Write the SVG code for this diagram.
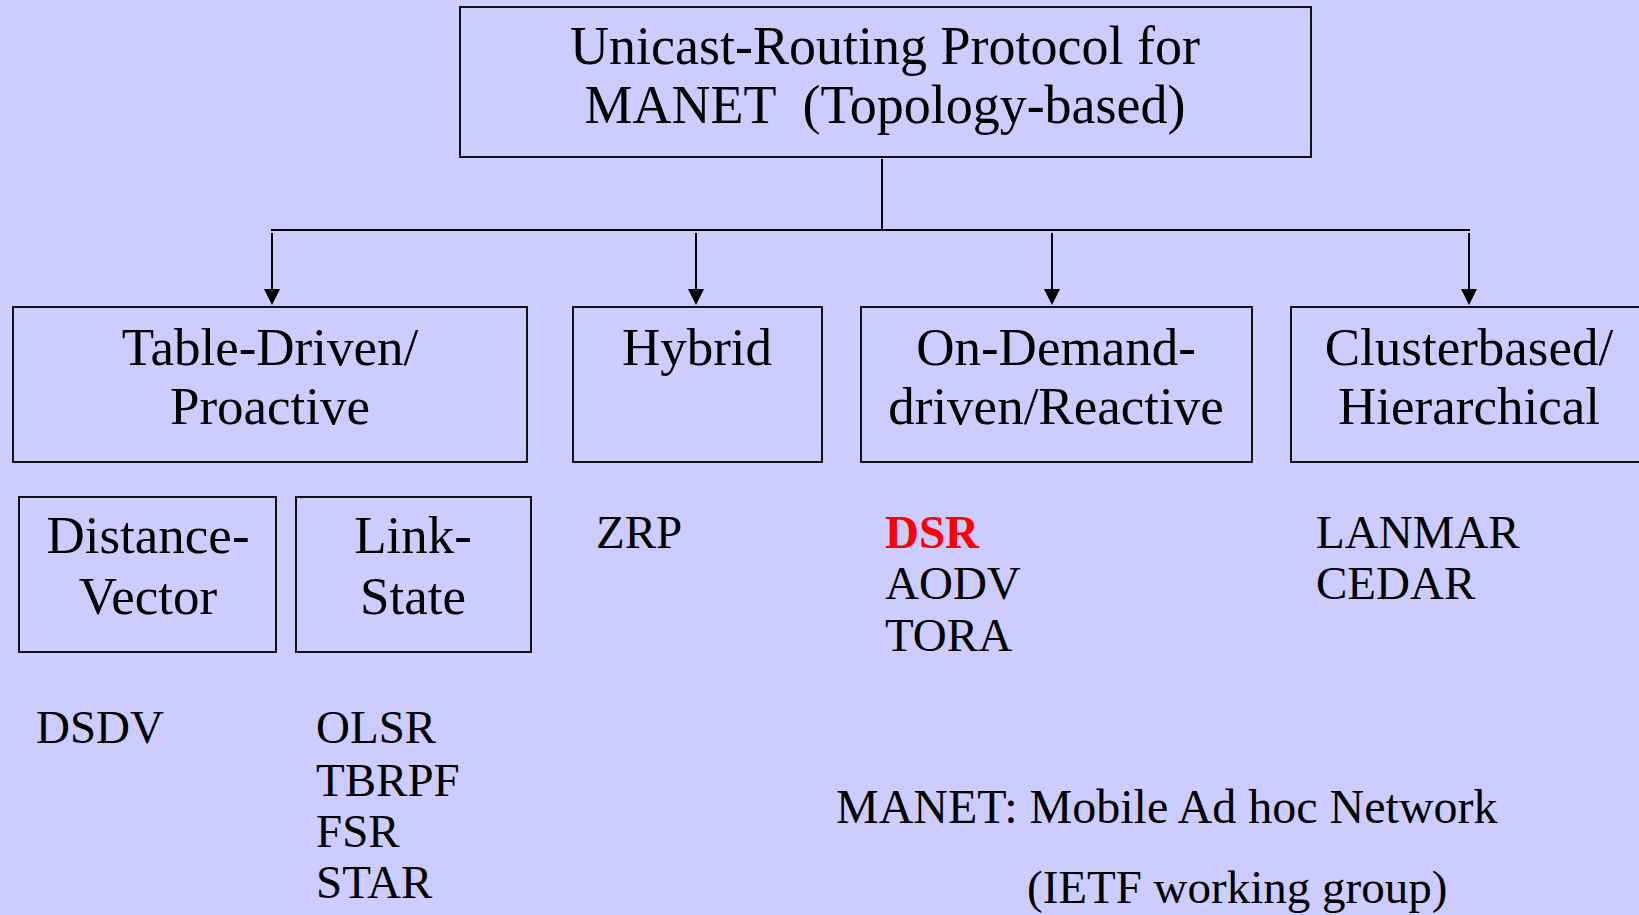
<svg xmlns="http://www.w3.org/2000/svg" width="1639" height="915" viewBox="0 0 1639 915">
  <style>
    .box { fill: none; stroke: #111; stroke-width: 2; }
    .wire { fill: none; stroke: #000; stroke-width: 2; }
    .t { font-family: "Liberation Serif", "Times New Roman", serif; fill: #000; }
    .title { font-size: 54px; text-anchor: middle; }
    .cat { font-size: 53px; text-anchor: middle; }
    .item { font-size: 47px; }
    .note { font-size: 48px; }
    .hot { fill: #FF0000; font-weight: bold; }
  </style>

  <rect width="1639" height="915" fill="#CCCCFF"/>

  <!-- connectors: trunk, bus and four arrowed drops -->
  <g id="connectors">
    <line class="wire" x1="882" y1="159" x2="882" y2="230"/>
    <line class="wire" x1="271" y1="230" x2="1470" y2="230"/>
    <path class="wire" d="M272,233 V290"/>
    <path class="wire" d="M696,233 V290"/>
    <path class="wire" d="M1052,233 V290"/>
    <path class="wire" d="M1469,233 V290"/>
    <path d="M264,289 L280,289 L272,305 Z"/>
    <path d="M688,289 L704,289 L696,305 Z"/>
    <path d="M1044,289 L1060,289 L1052,305 Z"/>
    <path d="M1461,289 L1477,289 L1469,305 Z"/>
  </g>

  <!-- root -->
  <g id="root">
    <rect class="box" x="460" y="7" width="851" height="150"/>
    <text class="t title" x="885" y="64">Unicast-Routing Protocol for</text>
    <text class="t title" x="885" y="123" xml:space="preserve">MANET  (Topology-based)</text>
  </g>

  <!-- categories -->
  <g id="table-driven">
    <rect class="box" x="13" y="307" width="514" height="155"/>
    <text class="t cat" x="270" y="365">Table-Driven/</text>
    <text class="t cat" x="270" y="424">Proactive</text>
  </g>
  <g id="hybrid">
    <rect class="box" x="573" y="307" width="249" height="155"/>
    <text class="t cat" x="697" y="365">Hybrid</text>
  </g>
  <g id="on-demand">
    <rect class="box" x="861" y="307" width="391" height="155"/>
    <text class="t cat" x="1056" y="365">On-Demand-</text>
    <text class="t cat" x="1056" y="424">driven/Reactive</text>
  </g>
  <g id="clusterbased">
    <rect class="box" x="1291" y="307" width="360" height="155"/>
    <text class="t cat" x="1469" y="365">Clusterbased/</text>
    <text class="t cat" x="1469" y="424">Hierarchical</text>
  </g>

  <!-- table-driven subtypes -->
  <g id="distance-vector">
    <rect class="box" x="19" y="497" width="257" height="155"/>
    <text class="t cat" x="148" y="553">Distance-</text>
    <text class="t cat" x="148" y="614">Vector</text>
  </g>
  <g id="link-state">
    <rect class="box" x="296" y="497" width="235" height="155"/>
    <text class="t cat" x="413" y="553">Link-</text>
    <text class="t cat" x="413" y="614">State</text>
  </g>

  <!-- protocol lists -->
  <g id="hybrid-list">
    <text class="t item" x="596" y="548">ZRP</text>
  </g>
  <g id="on-demand-list">
    <text class="t item hot" x="885" y="548">DSR</text>
    <text class="t item" x="885" y="599">AODV</text>
    <text class="t item" x="885" y="651">TORA</text>
  </g>
  <g id="cluster-list">
    <text class="t item" x="1316" y="548">LANMAR</text>
    <text class="t item" x="1316" y="599">CEDAR</text>
  </g>
  <g id="dv-list">
    <text class="t item" x="36" y="743">DSDV</text>
  </g>
  <g id="ls-list">
    <text class="t item" x="316" y="743">OLSR</text>
    <text class="t item" x="316" y="796">TBRPF</text>
    <text class="t item" x="316" y="847">FSR</text>
    <text class="t item" x="316" y="898">STAR</text>
  </g>

  <!-- legend -->
  <g id="legend">
    <text class="t note" x="836" y="823">MANET: Mobile Ad hoc Network</text>
    <text class="t item" x="1027" y="903">(IETF working group)</text>
  </g>
</svg>
